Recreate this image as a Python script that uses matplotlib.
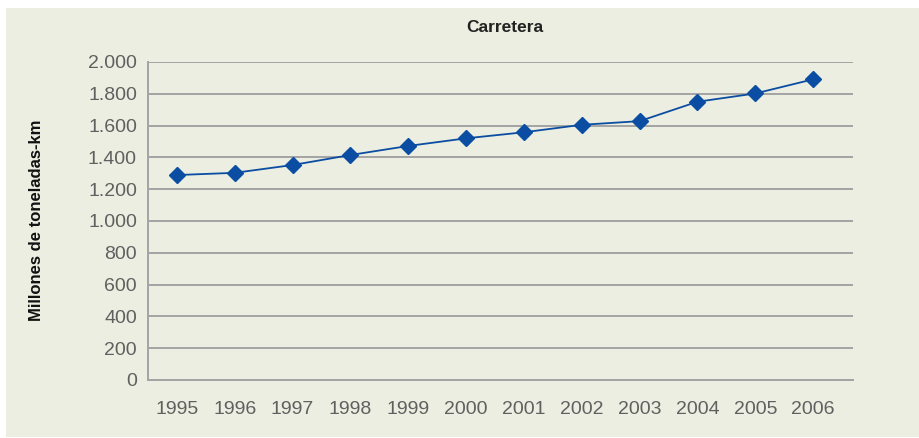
import matplotlib.pyplot as plt
from matplotlib.patches import Rectangle
from matplotlib.ticker import FuncFormatter

years = ['1995', '1996', '1997', '1998', '1999', '2000',
         '2001', '2002', '2003', '2004', '2005', '2006']
values = [1289, 1303, 1352, 1415, 1472, 1520,
          1558, 1605, 1628, 1750, 1802, 1891]
y_ticks = [0, 200, 400, 600, 800, 1000, 1200, 1400, 1600, 1800, 2000]

bg = '#EBEEE0'
grid_col = '#A3A3A3'
blue = '#0A4DA2'

plt.rcParams['font.family'] = ['Liberation Sans', 'DejaVu Sans']

fig = plt.figure(figsize=(9.2, 4.38), dpi=100)
fig.patch.set_facecolor('white')
# panel background, behind the axes
fig.patches.append(Rectangle((6 / 920, 1 - 437 / 438), 914 / 920, 429 / 438,
                             transform=fig.transFigure, facecolor=bg,
                             edgecolor='none', zorder=-5))

ax = fig.add_axes([148 / 920, 1 - 380 / 438, 705 / 920, 318 / 438])
ax.set_facecolor(bg)

x = list(range(len(years)))
ax.plot(x, values, color=blue, lw=1.3, marker='D', ms=8.5,
        markeredgecolor=blue, markerfacecolor=blue, zorder=3, clip_on=False)

ax.set_ylim(0, 2000)
ax.set_xlim(-0.5, 11.69)
ax.set_yticks(y_ticks)
ax.yaxis.set_major_formatter(FuncFormatter(lambda v, p: f'{int(v):,}'.replace(',', '.')))
ax.set_xticks(x)
ax.set_xticklabels(years)

ax.grid(axis='y', color=grid_col, lw=1.4)
ax.set_axisbelow(True)
for s in ['top', 'right']:
    ax.spines[s].set_visible(False)
ax.spines['left'].set_color(grid_col)
ax.spines['left'].set_linewidth(1.4)
ax.spines['bottom'].set_color(grid_col)
ax.spines['bottom'].set_linewidth(1.4)

ax.tick_params(axis='both', length=0, labelsize=14, labelcolor='#606060')
ax.tick_params(axis='y', pad=8)
ax.tick_params(axis='x', pad=15)

fig.text(505 / 920, 1 - 28 / 438, 'Carretera', ha='center', va='center',
         fontsize=12.5, fontweight='bold', color='#222222')
fig.text(37 / 920, 1 - 220 / 438, 'Millones de toneladas-km', rotation=90,
         ha='center', va='center', fontsize=12, fontweight='bold',
         color='#111111')

fig.savefig('out.png', dpi=100, facecolor='white')
